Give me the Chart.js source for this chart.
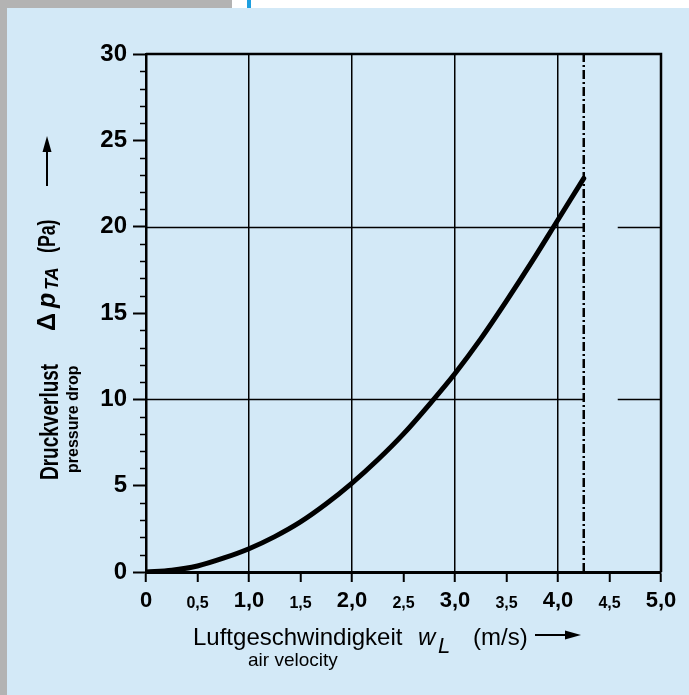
<!DOCTYPE html>
<html lang="de">
  <head>
    <meta charset="UTF-8" />
    <title>Druckverlust</title>
    <script src="https://cdn.jsdelivr.net/npm/chart.js"></script>
    <style>
      body {
        margin: 0;
        width: 689px;
        height: 695px;
        position: relative;
        overflow: hidden;
        background: #b3b3b3;
      }
      .top-strip {
        position: absolute;
        left: 232px;
        top: 0;
        width: 457px;
        height: 8px;
        background: #ffffff;
      }
      .blue-mark {
        position: absolute;
        left: 247px;
        top: 0;
        width: 4px;
        height: 8px;
        background: #1d9fe0;
      }
      .panel {
        position: absolute;
        left: 7px;
        top: 8px;
        width: 682px;
        height: 687px;
        background: #d3e9f7;
      }
      #pressureChart {
        position: absolute;
        left: 0;
        top: 0;
      }
    </style>
  </head>
  <body>
    <div class="top-strip"></div>
    <div class="blue-mark"></div>
    <div class="panel"></div>
    <canvas id="pressureChart" width="689" height="695"></canvas>

    <script>
      // air velocity w_L (m/s) and pressure drop (Pa)
      const velocity = [0, 0.25, 0.5, 0.75, 1.0, 1.25, 1.5, 1.75, 2.0, 2.25, 2.5, 2.75, 3.0, 3.25, 3.5, 3.75, 4.0, 4.25];
      const pressureDrop = [0, 0.1, 0.35, 0.8, 1.35, 2.05, 2.9, 3.95, 5.15, 6.5, 8.0, 9.7, 11.5, 13.5, 15.7, 18.0, 20.4, 22.8];

      // dash-dot limit line and the gap in the horizontal grid lines
      const limitVelocity = 4.25;
      const gridResumeVelocity = 4.58;
      const pressureGridLines = [10, 20];

      const velocityTickLabels = ["0", "0,5", "1,0", "1,5", "2,0", "2,5", "3,0", "3,5", "4,0", "4,5", "5,0"];
      const pressureTickLabels = ["0", "5", "10", "15", "20", "25", "30"];

      const FONT = "'Liberation Sans', Arial, sans-serif";

      // draw text turned 90° so it reads bottom to top
      function upText(ctx, text, font, x, y, sx) {
        ctx.save();
        ctx.translate(x, y);
        ctx.rotate(-Math.PI / 2);
        ctx.scale(sx || 1, 1);
        ctx.font = font;
        ctx.textBaseline = "alphabetic";
        ctx.textAlign = "left";
        ctx.fillText(text, 0, 0);
        ctx.restore();
      }

      const framePlugin = {
        id: "frame",
        beforeDatasetsDraw(chart) {
          const { ctx, chartArea } = chart;
          const xs = chart.scales.x;
          const ys = chart.scales.y;
          ctx.save();
          ctx.strokeStyle = "#000";

          // horizontal grid lines, broken around the limit line
          ctx.lineWidth = 1.5;
          pressureGridLines.forEach((p) => {
            const py = Math.round(ys.getPixelForValue(p)) + 0.5;
            ctx.beginPath();
            ctx.moveTo(xs.getPixelForValue(0), py);
            ctx.lineTo(xs.getPixelForValue(limitVelocity), py);
            ctx.moveTo(xs.getPixelForValue(gridResumeVelocity), py);
            ctx.lineTo(xs.getPixelForValue(5), py);
            ctx.stroke();
          });

          // minor ticks on the pressure axis
          for (let v = 1; v < 30; v++) {
            if (v % 5 === 0) continue;
            const py = Math.round(ys.getPixelForValue(v)) + 0.5;
            ctx.beginPath();
            ctx.moveTo(chartArea.left - 6, py);
            ctx.lineTo(chartArea.left, py);
            ctx.stroke();
          }

          // top and right frame
          ctx.lineWidth = 2.5;
          ctx.beginPath();
          ctx.moveTo(chartArea.left, ys.getPixelForValue(30));
          ctx.lineTo(xs.getPixelForValue(5), ys.getPixelForValue(30));
          ctx.lineTo(xs.getPixelForValue(5), ys.getPixelForValue(0));
          ctx.stroke();
          ctx.restore();
        },
        afterDraw(chart) {
          const ctx = chart.ctx;
          ctx.save();
          ctx.fillStyle = "#000";
          ctx.strokeStyle = "#000";

          // y axis title
          upText(ctx, "Druckverlust", "bold 25px " + FONT, 58, 480, 0.76);
          upText(ctx, "pressure drop", "bold 16px " + FONT, 78, 473);
          upText(ctx, "\u0394", "bold 25px " + FONT, 55, 331);
          upText(ctx, "p", "italic bold 25px " + FONT, 55, 308);
          upText(ctx, "TA", "italic bold 18px " + FONT, 58, 290);
          upText(ctx, "(Pa)", "bold 23px " + FONT, 55, 253, 0.77);

          // y arrow
          ctx.lineWidth = 2;
          ctx.beginPath();
          ctx.moveTo(47, 186);
          ctx.lineTo(47, 150);
          ctx.stroke();
          ctx.beginPath();
          ctx.moveTo(47, 136);
          ctx.lineTo(42.5, 152);
          ctx.lineTo(51.5, 152);
          ctx.closePath();
          ctx.fill();

          // x axis title
          ctx.textBaseline = "alphabetic";
          ctx.textAlign = "left";
          ctx.font = "24px " + FONT;
          ctx.fillText("Luftgeschwindigkeit", 193, 645);
          ctx.font = "italic 24px " + FONT;
          ctx.fillText("w", 418, 645);
          ctx.font = "italic 22px " + FONT;
          ctx.fillText("L", 438, 653);
          ctx.font = "24px " + FONT;
          ctx.fillText("(m/s)", 473, 645);
          ctx.font = "19px " + FONT;
          ctx.fillText("air velocity", 248, 666);

          // x arrow
          ctx.beginPath();
          ctx.moveTo(535, 635);
          ctx.lineTo(568, 635);
          ctx.stroke();
          ctx.beginPath();
          ctx.moveTo(581, 635);
          ctx.lineTo(565, 630.5);
          ctx.lineTo(565, 639.5);
          ctx.closePath();
          ctx.fill();
          ctx.restore();
        },
      };

      const curvePoints = velocity.map((v, i) => ({ x: v, y: pressureDrop[i] }));
      const limitPoints = [
        { x: limitVelocity, y: 0 },
        { x: limitVelocity, y: 30 },
      ];

      new Chart(document.getElementById("pressureChart"), {
        type: "line",
        data: {
          datasets: [
            {
              data: curvePoints,
              borderColor: "#000",
              borderWidth: 5,
              borderCapStyle: "round",
              pointRadius: 0,
              cubicInterpolationMode: "monotone",
            },
            {
              data: limitPoints,
              borderColor: "#000",
              borderWidth: 2.5,
              borderDash: [9, 3, 2, 3],
              pointRadius: 0,
            },
          ],
        },
        options: {
          responsive: false,
          devicePixelRatio: 1,
          animation: false,
          layout: { padding: { top: 54, right: 28, left: 0, bottom: 0 } },
          plugins: { legend: { display: false }, tooltip: { enabled: false } },
          scales: {
            x: {
              type: "linear",
              min: 0,
              max: 5,
              afterFit: (scale) => {
                scale.height = 123;
              },
              ticks: {
                stepSize: 0.5,
                autoSkip: false,
                maxRotation: 0,
                padding: 6,
                color: "#000",
                callback: (value, index) => velocityTickLabels[index],
                font: (c) =>
                  Number.isInteger(c.tick && c.tick.value)
                    ? { family: FONT, size: 22, weight: "bold" }
                    : { family: FONT, size: 16, weight: "bold", lineHeight: 1.925 },
              },
              grid: {
                color: (c) => {
                  const v = c.tick ? c.tick.value : 0;
                  return Number.isInteger(v) && v > 0 && v < 5 ? "#000" : "rgba(0,0,0,0)";
                },
                lineWidth: 1.5,
                tickColor: "#000",
                tickWidth: 2,
                tickLength: 10,
              },
              border: { display: true, color: "#000", width: 3 },
            },
            y: {
              min: 0,
              max: 30,
              afterFit: (scale) => {
                scale.width = 146;
              },
              ticks: {
                stepSize: 5,
                padding: 6,
                color: "#000",
                font: { family: FONT, size: 24, weight: "bold" },
                callback: (value, index) => pressureTickLabels[index],
              },
              grid: {
                drawOnChartArea: false,
                tickColor: "#000",
                tickWidth: 2,
                tickLength: 13,
              },
              border: { display: true, color: "#000", width: 2.5 },
            },
          },
        },
        plugins: [framePlugin],
      });
    </script>
  </body>
</html>
